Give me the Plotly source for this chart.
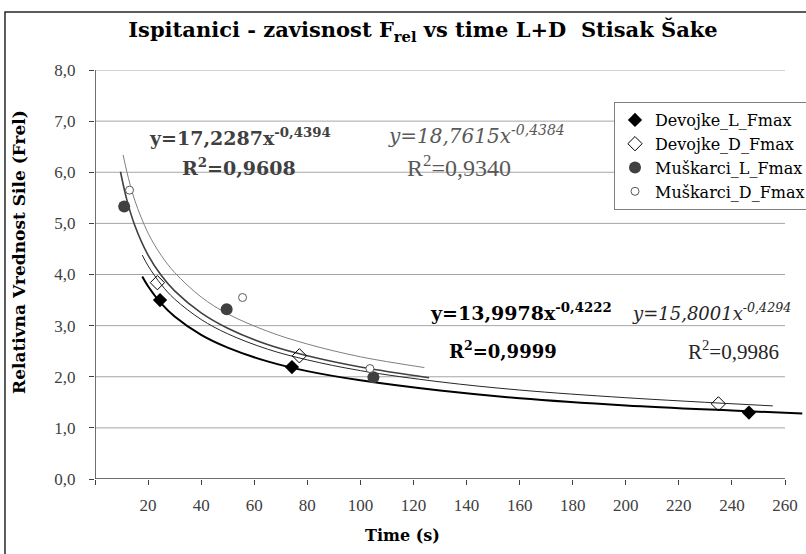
import plotly.graph_objects as go

# ---- measured data points ----
DL_X = [24.5, 74.2, 246.4]
DL_Y = [3.50, 2.19, 1.30]
DD_X = [23.5, 77.0, 234.9]
DD_Y = [3.84, 2.41, 1.47]
ML_X = [11.0, 49.6, 104.9]
ML_Y = [5.33, 3.32, 1.99]
MD_X = [13.0, 55.6, 103.6]
MD_Y = [5.65, 3.55, 2.16]

# ---- power trend lines ----
DL_TX = [17.8, 20, 25, 30, 40, 50, 65, 80, 100, 130, 160, 200, 240, 266.5]
DL_TY = [3.96, 3.77, 3.43, 3.18, 2.82, 2.57, 2.30, 2.11, 1.93, 1.73, 1.58, 1.44, 1.34, 1.28]
DD_TX = [17.8, 20, 25, 30, 40, 50, 65, 80, 100, 130, 160, 200, 255.4]
DD_TY = [4.38, 4.17, 3.80, 3.52, 3.12, 2.84, 2.54, 2.33, 2.12, 1.90, 1.74, 1.59, 1.43]
ML_TX = [9.6, 12, 15, 20, 25, 30, 40, 50, 65, 80, 100, 125.9]
ML_TY = [6.01, 5.46, 4.96, 4.38, 3.98, 3.68, 3.25, 2.95, 2.63, 2.41, 2.19, 1.98]
MD_TX = [10.6, 12, 15, 20, 25, 30, 40, 50, 65, 80, 100, 124.1]
MD_TY = [6.34, 6.01, 5.45, 4.81, 4.37, 4.04, 3.56, 3.23, 2.89, 2.64, 2.39, 2.18]

X_TICKS = [0, 20, 40, 60, 80, 100, 120, 140, 160, 180, 200, 220, 240, 260]
X_LABELS = ["", "20", "40", "60", "80", "100", "120", "140", "160", "180", "200", "220", "240", "260"]
Y_TICKS = [0, 1, 2, 3, 4, 5, 6, 7, 8]

SERIF = "DejaVu Serif"

fig = go.Figure()

# trend lines
fig.add_trace(go.Scatter(x=MD_TX, y=MD_TY, mode="lines", line=dict(color="#7f7f7f", width=1, shape="spline"),
                         showlegend=False, hoverinfo="skip"))
fig.add_trace(go.Scatter(x=ML_TX, y=ML_TY, mode="lines", line=dict(color="#404040", width=1.6, shape="spline"),
                         showlegend=False, hoverinfo="skip"))
fig.add_trace(go.Scatter(x=DD_TX, y=DD_TY, mode="lines", line=dict(color="#262626", width=1, shape="spline"),
                         showlegend=False, hoverinfo="skip"))
fig.add_trace(go.Scatter(x=DL_TX, y=DL_TY, mode="lines", line=dict(color="#000000", width=2, shape="spline"),
                         showlegend=False, hoverinfo="skip"))

# data markers
fig.add_trace(go.Scatter(x=DL_X, y=DL_Y, mode="markers", name="Devojke_L_Fmax",
                         marker=dict(symbol="diamond", size=11, color="#000000", line=dict(width=0))))
fig.add_trace(go.Scatter(x=DD_X, y=DD_Y, mode="markers", name="Devojke_D_Fmax",
                         marker=dict(symbol="diamond-open", size=11, color="#000000", line=dict(width=1))))
fig.add_trace(go.Scatter(x=ML_X, y=ML_Y, mode="markers", name="Muškarci_L_Fmax",
                         marker=dict(symbol="circle", size=12, color="#404040", line=dict(width=0))))
fig.add_trace(go.Scatter(x=MD_X, y=MD_Y, mode="markers", name="Muškarci_D_Fmax",
                         marker=dict(symbol="circle", size=8, color="#ffffff", line=dict(width=1, color="#595959"))))

shapes = []
for v in Y_TICKS[1:]:
    shapes.append(dict(type="line", xref="x", yref="y", x0=0, x1=260, y0=v, y1=v,
                       line=dict(color="#a6a6a6", width=1), layer="below"))
shapes.append(dict(type="line", xref="x", yref="y", x0=0, x1=260, y0=0, y1=0,
                   line=dict(color="#404040", width=1.5), layer="above"))
shapes.append(dict(type="line", xref="x", yref="y", x0=0, x1=0, y0=0, y1=8,
                   line=dict(color="#404040", width=1.5), layer="above"))
# outer chart frame (cropped at right/bottom)
shapes.append(dict(type="rect", xref="paper", yref="paper", x0=-0.1266, x1=1.2, y0=-0.4, y1=1.1418,
                   line=dict(color="#262626", width=1.5), fillcolor="rgba(0,0,0,0)", layer="above"))

annotations = [
    dict(text="<b>y=17,2287x<sup>-0,4394</sup></b>", x=54.8, y=6.69, font=dict(family=SERIF, size=19, color="#404040")),
    dict(text="<b>R<sup>2</sup>=0,9608</b>", x=54.2, y=6.10, font=dict(family=SERIF, size=19, color="#404040")),
    dict(text="<i>y=18,7615x<sup>-0,4384</sup></i>", x=143.8, y=6.72, font=dict(family=SERIF, size=20, color="#595959")),
    dict(text="R<sup>2</sup>=0,9340", x=137.2, y=6.12, font=dict(family="Liberation Serif", size=24, color="#595959")),
    dict(text="<b>y=13,9978x<sup>-0,4222</sup></b>", x=160.7, y=3.26, font=dict(family=SERIF, size=19, color="#000000")),
    dict(text="<b>R<sup>2</sup>=0,9999</b>", x=153.7, y=2.53, font=dict(family=SERIF, size=18, color="#000000")),
    dict(text="<i>y=15,8001x<sup>-0,4294</sup></i>", x=232.3, y=3.26, font=dict(family=SERIF, size=18, color="#262626")),
    dict(text="R<sup>2</sup>=0,9986", x=240.6, y=2.52, font=dict(family="Liberation Serif", size=21, color="#262626")),
]
for a in annotations:
    a.update(xref="x", yref="y", showarrow=False, xanchor="center", yanchor="middle")

annotations.append(dict(text="<b>Time (s)</b>", xref="paper", yref="paper", x=(402 - 95) / 711, y=(479 - 535) / 409,
                        showarrow=False, xanchor="center", yanchor="middle",
                        font=dict(family=SERIF, size=16, color="#000000")))
annotations.append(dict(text="<b>Relativna Vrednost Sile (Frel)</b>", xref="paper", yref="paper",
                        x=(19 - 95) / 711, y=(479 - 252) / 409, textangle=-90,
                        showarrow=False, xanchor="center", yanchor="middle",
                        font=dict(family=SERIF, size=17, color="#000000")))

fig.update_layout(
    width=806, height=554,
    margin=dict(l=95, r=0, t=70, b=75, autoexpand=False),
    paper_bgcolor="white", plot_bgcolor="white",
    separators=",.",
    title=dict(text="<b>Ispitanici - zavisnost F<sub>rel</sub> vs time L+D \u00a0Stisak Šake</b>",
               x=(423 - 95) / 711, xref="paper", xanchor="center",
               y=1 - 30 / 554, yref="container", yanchor="middle",
               font=dict(family=SERIF, size=21, color="#000000")),
    legend=dict(x=(614 - 95) / 711, y=(479 - 102) / 409, xanchor="left", yanchor="top",
                bordercolor="#7f7f7f", borderwidth=1, bgcolor="white", itemwidth=30,
                font=dict(family=SERIF, size=16, color="#000000"), tracegroupgap=0),
    xaxis=dict(range=[0, 267.9], showgrid=False, zeroline=False, showline=False,
               tickmode="array", tickvals=X_TICKS, ticktext=X_LABELS,
               ticks="outside", ticklen=5, tickcolor="#404040", tickwidth=1,
               tickfont=dict(family="Liberation Serif", size=17, color="#404040"),
               ticklabelstandoff=6),
    yaxis=dict(range=[0, 8], showgrid=False, zeroline=False, showline=False,
               tickmode="array", tickvals=Y_TICKS, tickformat=".1f",
               ticks="outside", ticklen=5, tickcolor="#404040", tickwidth=1,
               tickfont=dict(family="Liberation Serif", size=17, color="#404040"),
               ticklabelstandoff=10),
    shapes=shapes,
    annotations=annotations,
)

fig.write_html("out.html", config={"displayModeBar": False},
               post_script="document.body.style.margin='0';document.body.style.overflow='hidden';")
